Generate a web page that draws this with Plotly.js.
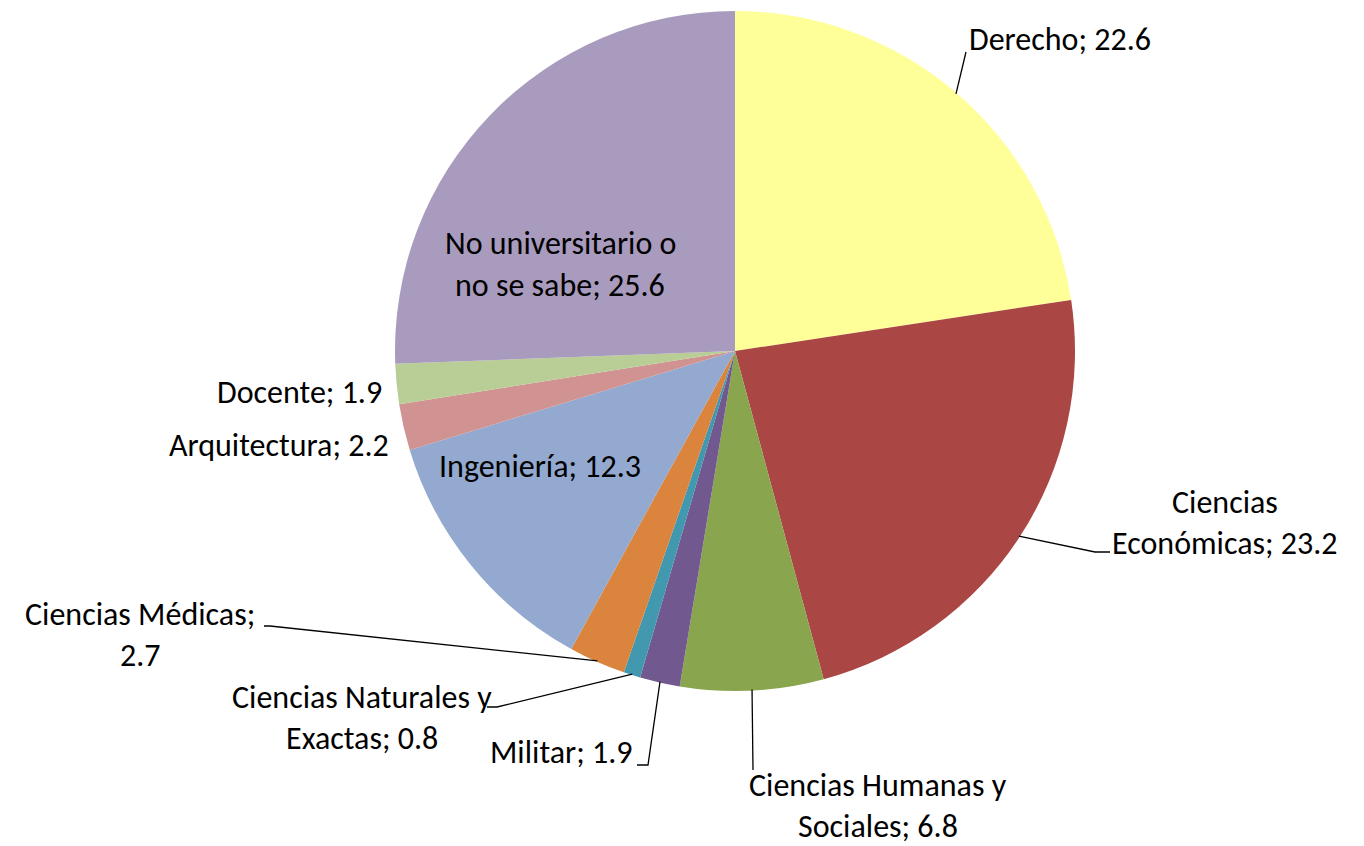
<!DOCTYPE html>
<html><head><meta charset="utf-8">
<script src="https://cdn.plot.ly/plotly-3.0.1.min.js"></script>
<style>html,body{margin:0;padding:0;background:#fff}#chart{width:1364px;height:846px}</style>
</head><body><div id="chart"></div>
<script>
// Data
const categories = ["Derecho", "Ciencias Económicas", "Ciencias Humanas y Sociales", "Militar",
  "Ciencias Naturales y Exactas", "Ciencias Médicas", "Ingeniería", "Arquitectura", "Docente",
  "No universitario o no se sabe"];
const values = [22.6, 23.2, 6.8, 1.9, 0.8, 2.7, 12.3, 2.2, 1.9, 25.6];
const labelLines = [
  ["Derecho; 22.6"],
  ["Ciencias", "Económicas; 23.2"],
  ["Ciencias Humanas y", "Sociales; 6.8"],
  ["Militar; 1.9"],
  ["Ciencias Naturales y", "Exactas; 0.8"],
  ["Ciencias Médicas;", "2.7"],
  ["Ingeniería; 12.3"],
  ["Arquitectura; 2.2"],
  ["Docente; 1.9"],
  ["No universitario o", "no se sabe; 25.6"]
];
const colors = ["#FFFF99", "#AA4643", "#89A54E", "#71588F", "#4198AF", "#DB843D",
  "#93A9CF", "#D19392", "#B9CD96", "#A99BBD"];

// Layout (pixels)
const W = 1364, H = 846;
const cx = 735, cy = 351, R = 340;
// label placement: [x, firstLineY, xanchor]
const labelPos = [
  [968, 40, "left"], [1225, 502, "center"], [878, 785, "center"], [634, 752, "right"],
  [362, 697, "center"], [140, 614, "center"], [540, 467, "center"], [390, 445, "right"],
  [383, 392, "right"], [560, 244, "center"]
];
const lineSpacing = 41;
// leader line elbows (pixels), null = no leader
const leaderElbows = [
  [[966, 52]], [[1095, 552], [1110, 552]], [[753, 770]], [[648, 765], [637, 765]],
  [[497, 707], [487, 707]], [[270, 626], [264, 626]], null, null, null, null
];

const px = x => x / W, py = y => 1 - y / H;

const total = values.reduce((a, b) => a + b, 0);
const annotations = [], shapes = [];
let cum = 0;
values.forEach((v, i) => {
  const mid = (cum + v / 2) / total * 2 * Math.PI;
  cum += v;
  const ex = cx + (R - 1) * Math.sin(mid), ey = cy - (R - 1) * Math.cos(mid);
  const el = leaderElbows[i];
  if (el) {
    let d = `M ${px(ex)} ${py(ey)}`;
    el.forEach(p => { d += ` L ${px(p[0])} ${py(p[1])}`; });
    shapes.push({type: "path", xref: "paper", yref: "paper", path: d,
      line: {color: "#000", width: 1.3}});
  }
  const [lx, ly, anc] = labelPos[i];
  labelLines[i].forEach((t, k) => {
    annotations.push({xref: "paper", yref: "paper", x: px(lx), y: py(ly + k * lineSpacing),
      xanchor: anc, yanchor: "middle", text: t, showarrow: false, borderpad: 0,
      font: {family: "Carlito, 'Open Sans', sans-serif", size: 32, color: "#000"}});
  });
});

const trace = {
  type: "pie", labels: categories, values: values, sort: false, direction: "clockwise",
  rotation: 0, textinfo: "none", hoverinfo: "label+value",
  marker: {colors: colors, line: {width: 0}},
  domain: {x: [px(cx - R), px(cx + R)], y: [py(cy + R), py(cy - R)]},
  showlegend: false
};

Plotly.newPlot("chart", [trace], {
  width: W, height: H, margin: {l: 0, r: 0, t: 0, b: 0},
  paper_bgcolor: "#fff", showlegend: false, annotations: annotations, shapes: shapes
}, {displayModeBar: false});
</script></body></html>
